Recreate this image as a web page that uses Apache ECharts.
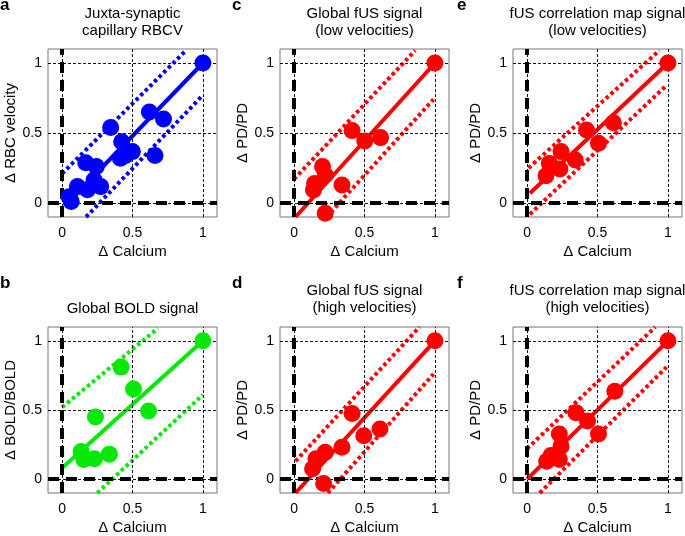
<!DOCTYPE html>
<html><head><meta charset="utf-8">
<script src="https://cdn.jsdelivr.net/npm/echarts@6/dist/echarts.min.js"></script>
<style>html,body{margin:0;padding:0;background:#fff}#c{width:685px;height:536px}</style>
</head><body><div id="c"></div>
<script>
// ---- data ----
const panelLetters = ['a', 'b', 'c', 'd', 'e', 'f'];
const panelTitles = [
  'Juxta-synaptic\ncapillary RBCV',
  'Global BOLD signal',
  'Global fUS signal\n(low velocities)',
  'Global fUS signal\n(high velocities)',
  'fUS correlation map signal\n(low velocities)',
  'fUS correlation map signal\n(high velocities)'
];
const yAxisNames = ['\u0394 RBC velocity', '\u0394 BOLD/BOLD', '\u0394 PD/PD', '\u0394 PD/PD', '\u0394 PD/PD', '\u0394 PD/PD'];
const xAxisName = '\u0394 Calcium';
const tickValues = [0, 0.5, 1];
const panelColors = ['#0000ff', '#08e808', '#ff0000', '#ff0000', '#ff0000', '#ff0000'];

const pointsA = [[1, 1], [0.62, 0.65], [0.72, 0.6], [0.345, 0.54], [0.423, 0.438], [0.499, 0.367], [0.45, 0.34],
  [0.414, 0.319], [0.66, 0.34], [0.168, 0.288], [0.243, 0.26], [0.227, 0.164], [0.109, 0.117],
  [0.274, 0.117], [0.18, 0.095], [0.05, 0.045], [0.065, 0.01]];
const pointsB = [[1, 1], [0.419, 0.81], [0.507, 0.652], [0.614, 0.493], [0.237, 0.45], [0.135, 0.2],
  [0.154, 0.143], [0.23, 0.148], [0.336, 0.181]];
const pointsC = [[1, 1], [0.412, 0.517], [0.502, 0.443], [0.614, 0.467], [0.202, 0.26], [0.221, 0.2],
  [0.145, 0.14], [0.138, 0.093], [0.34, 0.129], [0.221, -0.074]];
const pointsD = [[1, 1], [0.412, 0.474], [0.495, 0.314], [0.61, 0.362], [0.34, 0.231], [0.221, 0.195],
  [0.155, 0.148], [0.131, 0.076], [0.21, -0.031]];
const pointsE = [[1, 1], [0.422, 0.521], [0.613, 0.574], [0.507, 0.426], [0.342, 0.307], [0.241, 0.367],
  [0.233, 0.243], [0.158, 0.283], [0.134, 0.195]];
const pointsF = [[1, 1], [0.623, 0.636], [0.347, 0.481], [0.429, 0.421], [0.507, 0.326], [0.229, 0.326],
  [0.241, 0.238], [0.17, 0.171], [0.139, 0.129], [0.229, 0.143]];

const fitA = [[0.04, 0.0], [1, 1]];
const upperA = [[0.0, 0.21], [0.87, 1.08]];
const lowerA = [[0.17, -0.1], [0.99, 0.76]];
const fitB = [[0, 0.08], [1, 1]];
const upperB = [[0, 0.52], [0.68, 1.09]];
const lowerB = [[0.25, -0.1], [1, 0.61]];
const fitC = [[0.01, -0.1], [1, 1]];
const upperC = [[0, 0.17], [0.86, 1.09]];
const lowerC = [[0.23, -0.1], [0.99, 0.74]];
const fitD = [[0.01, -0.1], [1, 1]];
const upperD = [[0.01, 0.13], [0.89, 1.1]];
const lowerD = [[0.24, -0.1], [0.99, 0.76]];
const fitE = [[0.02, 0.07], [1, 1]];
const upperE = [[0.01, 0.25], [0.94, 1.09]];
const lowerE = [[0.02, -0.08], [0.99, 0.84]];
const fitF = [[0, 0], [1, 1]];
const upperF = [[0, 0.22], [0.91, 1.1]];
const lowerF = [[0.09, -0.1], [0.99, 0.81]];

const allPoints = [pointsA, pointsB, pointsC, pointsD, pointsE, pointsF];
const allFits = [fitA, fitB, fitC, fitD, fitE, fitF];
const allUppers = [upperA, upperB, upperC, upperD, upperE, upperF];
const allLowers = [lowerA, lowerB, lowerC, lowerD, lowerE, lowerF];

// ---- layout ----
const FONT = 'Liberation Sans, Arial, Helvetica, sans-serif';
const colLefts = [48, 280, 513];
const rowTops = [49, 327];
const plotW = 169, plotH = 168;
// panel index -> [col,row]
const place = [[0, 0], [0, 1], [1, 0], [1, 1], [2, 0], [2, 1]];

const grids = [], xAxes = [], yAxes = [], series = [], graphics = [];
const thin = { color: '#111', width: 1, type: [3, 2] };
const thick = { color: '#000', width: 4, type: [11, 7], cap: 'butt' };

place.forEach(([c, r], i) => {
  const left = colLefts[c], top = rowTops[r];
  grids.push({ left: left, top: top, width: plotW, height: plotH, show: true,
    borderColor: '#777', borderWidth: 1, backgroundColor: 'transparent', containLabel: false });
  xAxes.push({ type: 'value', gridIndex: i, min: -0.1, max: 1.1,
    axisLine: { show: false }, axisTick: { show: false }, splitLine: { show: false },
    axisLabel: { customValues: tickValues, fontSize: 14, color: '#000', fontFamily: FONT, margin: 9 },
    name: xAxisName, nameLocation: 'middle', nameGap: 27,
    nameTextStyle: { fontSize: 15, color: '#000', fontFamily: FONT } });
  yAxes.push({ type: 'value', gridIndex: i, min: -0.1, max: 1.1,
    axisLine: { show: false }, axisTick: { show: false }, splitLine: { show: false },
    axisLabel: { customValues: tickValues, fontSize: 14, color: '#000', fontFamily: FONT, margin: 6 },
    name: yAxisNames[i], nameLocation: 'middle', nameGap: 26,
    nameTextStyle: { fontSize: 15, color: '#000', fontFamily: FONT } });
  const col = panelColors[i];
  series.push({
    type: 'line', xAxisIndex: i, yAxisIndex: i, data: [], silent: true, z: 1,
    markLine: { symbol: 'none', silent: true, animation: false, label: { show: false },
      data: [
        { xAxis: 0.5, lineStyle: thin }, { xAxis: 1, lineStyle: thin },
        { yAxis: 0.5, lineStyle: thin }, { yAxis: 1, lineStyle: thin },
        { xAxis: 0, lineStyle: thin }, { yAxis: 0, lineStyle: thin },
        { xAxis: 0, lineStyle: thick }, { yAxis: 0, lineStyle: thick }
      ] }
  });
  ['upper', 'lower'].forEach((k) => {
    series.push({ type: 'line', xAxisIndex: i, yAxisIndex: i, z: 3, silent: true,
      data: k === 'upper' ? allUppers[i] : allLowers[i], symbol: 'none',
      lineStyle: { color: col, width: 4, type: [3.5, 3], cap: 'butt' } });
  });
  series.push({ type: 'line', xAxisIndex: i, yAxisIndex: i, z: 3, silent: true,
    data: allFits[i], symbol: 'none', lineStyle: { color: col, width: 4 } });
  series.push({ type: 'scatter', xAxisIndex: i, yAxisIndex: i, z: 5, silent: true,
    data: allPoints[i], symbol: 'circle', symbolSize: 17, itemStyle: { color: col, opacity: 1 } });

  // title
  const lines = panelTitles[i].split('\n');
  const cx = left + plotW / 2;
  const titleTop = r === 0 ? 5 : (lines.length === 1 ? 300 : 282);
  graphics.push({ type: 'text', x: cx, y: titleTop, silent: true,
    style: { text: panelTitles[i], fill: '#000', font: '15px ' + FONT, align: 'center',
      verticalAlign: 'top', lineHeight: 17 } });
  // panel letter
  const lx = [0, 232, 457][c];
  const ly = r === 0 ? 14 : 292;
  graphics.push({ type: 'text', x: lx, y: ly, silent: true,
    style: { text: panelLetters[i], fill: '#000', font: 'bold 17px ' + FONT,
      align: 'left', verticalAlign: 'bottom' } });
});

const chart = echarts.init(document.getElementById('c'), null, { renderer: 'canvas' });
chart.setOption({ animation: false, backgroundColor: '#fff', grid: grids, xAxis: xAxes, yAxis: yAxes,
  series: series, graphic: graphics });
</script></body></html>
